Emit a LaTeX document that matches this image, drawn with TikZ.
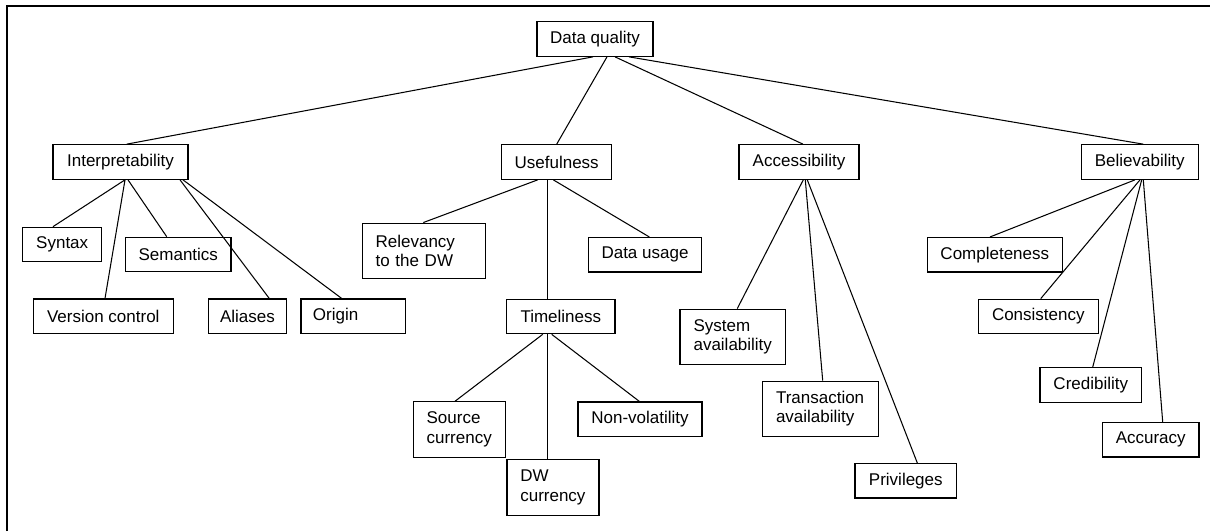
\documentclass[tikz,border=0pt]{standalone}
\usepackage{fontspec}
\setmainfont{Liberation Sans}
\begin{document}
\begin{tikzpicture}[x=1pt,y=-1pt,
  box/.style={draw, line width=1.2pt, inner sep=0pt, minimum height=34.5pt, fill=white,
    font=\fontsize{17}{19.5}\selectfont},
  tall/.style={minimum height=55.3pt},
  conn/.style={line width=1.05pt},
  frame/.style={line width=2.7pt}]
\useasboundingbox (0,0) rectangle (1210,531);
\coordinate (fa) at (7,531);
\coordinate (fb) at (7,6);
\coordinate (fc) at (1210,6);
\draw[frame] (fa) -- (fb) -- (fc);

% level 0
\node[box, minimum width=116pt] (dq) at (595,39) {Data quality};
% level 1
\node[box, minimum width=135pt] (interp) at (120.5,162) {Interpretability};
\node[box, minimum width=110pt] (useful) at (556.7,162) {Usefulness};
\node[box, minimum width=120pt] (access) at (799,162) {Accessibility};
\node[box, minimum width=117pt] (believ) at (1139.7,162) {Believability};
% interpretability
\node[box, minimum width=79pt] (syntax) at (62.2,244.5) {Syntax};
\node[box, minimum width=105.3pt] (semant) at (178.3,254.5) {Semantics};
\node[box, minimum width=140pt] (version) at (103.3,316.3) {Version control};
\node[box, minimum width=78.4pt] (aliases) at (247.5,316.3) {Aliases};
\node[box, minimum width=104.7pt, text width=80.7pt, align=left] (origin) at (353.3,316.3) {Origin};
% usefulness
\node[box, tall, minimum width=123.4pt, text width=96.8pt, align=left] (relev) at (424,250.8) {Relevancy\\to the DW};
\node[box, minimum width=113.4pt] (datausage) at (645,254.8) {Data usage};
\node[box, minimum width=108.3pt] (timeli) at (560.8,316.5) {Timeliness};
\node[box, tall, minimum width=92.4pt, text width=65.8pt, align=left] (source) at (459.5,429.5) {Source\\currency};
\node[box, minimum width=124pt] (nonvol) at (640,419.2) {Non-volatility};
\node[box, tall, minimum width=92pt, text width=65.4pt, align=left] (dwcur) at (553,487.5) {DW\\currency};
% accessibility
\node[box, tall, minimum width=105.7pt, text width=78.5pt, align=left] (sysav) at (732.8,336.8) {System\\availability};
\node[box, tall, minimum width=116pt, text width=89.4pt, align=left] (transav) at (820.7,408.8) {Transaction\\availability};
\node[box, minimum width=101.7pt] (priv) at (905.8,480.8) {Privileges};
% believability
\node[box, minimum width=135pt] (complete) at (994.8,254.8) {Completeness};
\node[box, minimum width=120pt] (consist) at (1038.3,316.5) {Consistency};
\node[box, minimum width=101.7pt] (cred) at (1090.8,385) {Credibility};
\node[box, minimum width=96.7pt] (accur) at (1150.7,439.8) {Accuracy};

% connectors
\draw[conn] ([xshift=-2pt]dq.south) -- ([xshift=6.2pt]interp.north);
\draw[conn] ([xshift=12pt]dq.south) -- (useful.north);
\draw[conn] ([xshift=20pt]dq.south) -- ([xshift=4pt]access.north);
\draw[conn] ([xshift=34pt]dq.south) -- ([xshift=3.6pt]believ.north);

\draw[conn] ([xshift=4.5pt]interp.south) -- ([xshift=-9.2pt]syntax.north);
\draw[conn] ([xshift=4.5pt]interp.south) -- ([xshift=1.7pt]version.north);
\draw[conn] ([xshift=7.5pt]interp.south) -- ([xshift=-11.6pt]semant.north);
\draw[conn] ([xshift=59.5pt]interp.south) -- ([xshift=21.8pt]aliases.north);
\draw[conn] ([xshift=62.5pt]interp.south) -- ([xshift=-11.6pt]origin.north);

\draw[conn] ([xshift=-19pt]useful.south) -- ([xshift=-0.7pt]relev.north);
\draw[conn] ([xshift=-9pt]useful.south) -- ([xshift=-13.1pt]timeli.north);
\draw[conn] ([xshift=-3.4pt]useful.south) -- ([xshift=4.3pt]datausage.north);

\draw[conn] ([xshift=-18.1pt]timeli.south) -- ([xshift=-4.5pt]source.north);
\draw[conn] ([xshift=-13.1pt]timeli.south) -- ([xshift=-5.3pt]dwcur.north);
\draw[conn] ([xshift=-9.1pt]timeli.south) -- ([xshift=-0.7pt]nonvol.north);

\draw[conn] ([xshift=4.3pt]access.south) -- ([xshift=4.5pt]sysav.north);
\draw[conn] ([xshift=6.3pt]access.south) -- ([xshift=2pt]transav.north);
\draw[conn] ([xshift=8.3pt]access.south) -- ([xshift=11.5pt]priv.north);

\draw[conn] ([xshift=-4.7pt]believ.south) -- ([xshift=-4.8pt]complete.north);
\draw[conn] ([xshift=0.3pt]believ.south) -- ([xshift=2.4pt]consist.north);
\draw[conn] ([xshift=2pt]believ.south) -- ([xshift=1.9pt]cred.north);
\draw[conn] ([xshift=3.6pt]believ.south) -- ([xshift=12pt]accur.north);
\end{tikzpicture}
\end{document}
